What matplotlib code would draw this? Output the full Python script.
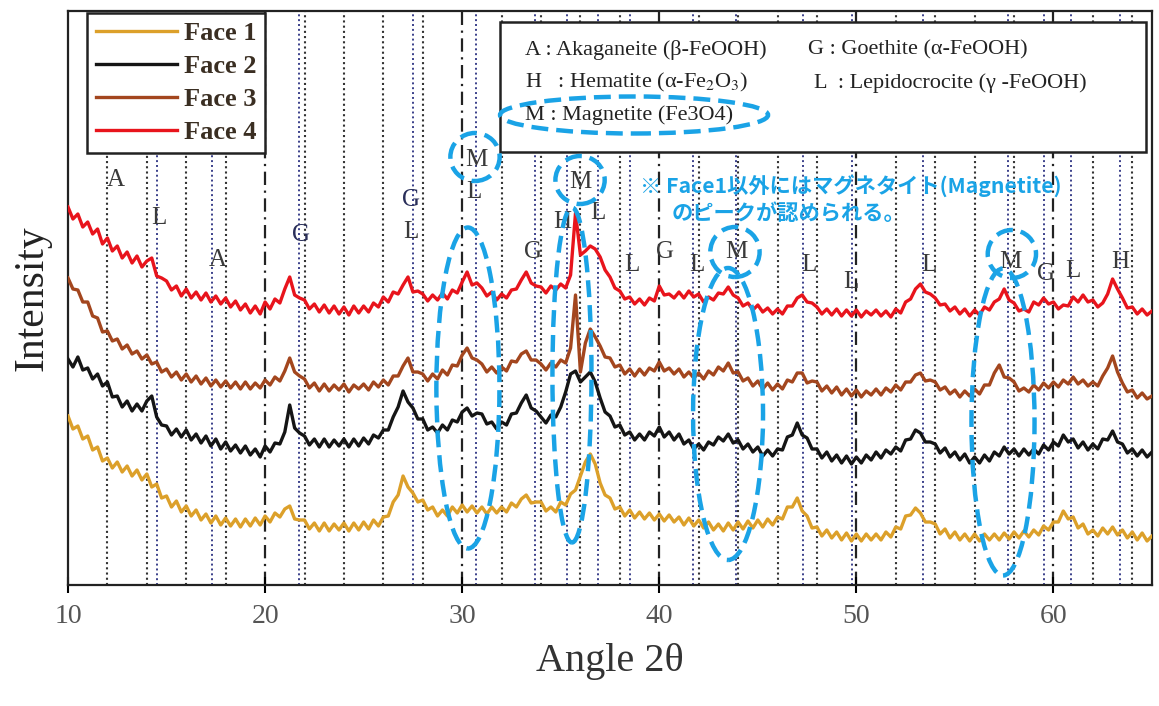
import numpy as np
import matplotlib.pyplot as plt
from matplotlib.patches import Ellipse, Rectangle

plt.rcParams['font.family'] = ['Liberation Serif', 'DejaVu Serif']
plt.rcParams['mathtext.fontset'] = 'stix'

# 2theta sampling (0.25 deg) (a.u.)
angle = np.arange(10, 65.001, 0.25)

face4 = [378, 366, 371, 358,  363, 351, 356, 341,  347, 334, 339, 327,  333, 322, 329, 318,
         324, 327, 309, 307,  304, 295, 299, 289,  296, 287, 293, 285,  292, 283, 289, 281,
         287, 278, 284, 275,  281, 272, 279, 271,  283, 276, 286, 282,  296, 308, 290, 287,
         285, 276, 281, 273,  280, 272, 279, 271,  278, 270, 279, 272,  279, 273, 282, 278,
         288, 283, 293, 291,  300, 308, 293, 294,  291, 284, 290, 285,  292, 286, 295, 292,
         303, 313, 300, 302,  297, 289, 293, 285,  291, 287, 295, 296,  305, 313, 302, 299,
         298, 292, 299, 295,  301, 297, 310, 372,  330, 334, 339, 336,  328, 315, 308, 297,
         294, 286, 288, 281,  286, 280, 287, 284,  299, 290, 291, 287,  293, 287, 294, 288,
         291, 283, 288, 285,  292, 291, 298, 290,  287, 279, 282, 275,  280, 273, 277, 271,
         276, 271, 279, 279,  287, 290, 283, 282,  278, 271, 276, 270,  276, 269, 275, 269,
         275, 268, 274, 270,  275, 269, 274, 268,  276, 272, 283, 286,  296, 301, 293, 291,
         287, 280, 281, 274,  278, 271, 276, 269,  275, 270, 278, 275,  283, 286, 296, 285,
         282, 274, 276, 273,  283, 280, 287, 281,  283, 276, 280, 279,  288, 283, 290, 283,
         285, 278, 282, 291,  306, 296, 287, 277,  278, 271, 276, 270,  274]

face3 = [307, 296, 295, 283,  283, 269, 267, 253,  254, 244, 246, 236,  240, 231, 234, 226,
         230, 221, 223, 213,  216, 208, 213, 205,  211, 203, 209, 201,  207, 199, 205, 198,
         204, 197, 203, 196,  203, 196, 202, 197,  205, 200, 208, 204,  214, 227, 213, 209,
         206, 197, 202, 194,  201, 194, 200, 195,  201, 193, 200, 196,  201, 195, 203, 198,
         205, 200, 209, 209,  219, 227, 213, 213,  211, 204, 211, 206,  215, 210, 220, 219,
         230, 237, 227, 225,  221, 213, 218, 212,  218, 214, 224, 223,  231, 234, 225, 225,
         221, 215, 222, 218,  225, 222, 237, 290,  213, 242, 256, 248,  239, 228, 227, 218,
         220, 211, 216, 209,  216, 210, 217, 214,  223, 214, 217, 211,  216, 208, 213, 207,
         212, 206, 214, 210,  218, 214, 222, 212,  213, 204, 207, 199,  204, 196, 202, 195,
         201, 196, 205, 203,  212, 212, 202, 204,  203, 194, 199, 192,  198, 190, 196, 189,
         195, 188, 194, 190,  196, 190, 197, 193,  200, 195, 203, 203,  210, 212, 204, 205,
         203, 195, 198, 191,  195, 188, 194, 189,  196, 191, 200, 200,  212, 220, 208, 207,
         203, 194, 197, 193,  200, 195, 202, 197,  203, 198, 205, 201,  208, 201, 205, 199,
         203, 199, 209, 217,  229, 213, 202, 193,  195, 187, 192, 186,  189]

face2 = [226, 218, 228, 215,  217, 206, 211, 199,  203, 188, 189, 178,  184, 174, 181, 174,
         184, 189, 168, 160,  159, 150, 156, 148,  155, 145, 151, 142,  149, 139, 146, 136,
         143, 134, 140, 132,  139, 130, 136, 128,  139, 133, 142, 141,  153, 180, 157, 152,
         149, 140, 146, 138,  146, 138, 145, 139,  146, 138, 146, 139,  147, 141, 150, 147,
         155, 155, 168, 178,  194, 183, 177, 166,  166, 155, 158, 152,  160, 155, 165, 163,
         173, 177, 169, 172,  171, 161, 163, 156,  163, 160, 171, 172,  182, 190, 177, 174,
         168, 162, 170, 168,  178, 193, 211, 214,  203, 208, 213, 203,  187, 173, 169, 158,
         160, 150, 153, 145,  151, 145, 153, 149,  158, 148, 153, 145,  151, 141, 145, 136,
         141, 135, 143, 140,  148, 144, 151, 142,  145, 136, 141, 133,  138, 129, 135, 129,
         136, 135, 148, 150,  162, 150, 147, 136,  136, 127, 133, 124,  130, 122, 129, 121,
         128, 122, 130, 125,  133, 127, 135, 131,  138, 134, 145, 146,  155, 152, 143, 143,
         141, 132, 137, 128,  133, 125, 131, 122,  128, 122, 130, 124,  133, 129, 138, 131,
         136, 129, 136, 130,  136, 131, 140, 135,  143, 139, 150, 143,  146, 137, 143, 135,
         141, 136, 146, 145,  154, 143, 141, 132,  136, 129, 135, 128,  133]

face1 = [169, 156, 159, 146,  149, 135, 138, 124,  127, 117, 123, 113,  119, 109, 115, 105,
         111, 98, 101, 87,  89, 78, 84, 73,  79, 69, 75, 65,  71, 62, 69, 60,
         67, 59, 66, 58,  66, 59, 67, 60,  69, 63, 72, 68,  76, 79, 66, 65,
         65, 56, 62, 54,  62, 54, 61, 55,  62, 54, 62, 55,  63, 56, 65, 59,
         68, 69, 83, 90,  109, 98, 92, 83,  85, 75, 78, 69,  75, 69, 78, 72,
         80, 73, 79, 72,  78, 71, 78, 72,  78, 73, 82, 78,  86, 90, 82, 83,
         83, 74, 78, 73,  83, 80, 91, 95,  109, 123, 131, 121,  102, 90, 87, 76,
         78, 69, 75, 67,  73, 66, 72, 65,  71, 64, 70, 63,  68, 60, 67, 59,
         65, 57, 63, 55,  61, 54, 62, 55,  63, 56, 64, 57,  65, 58, 66, 60,
         68, 66, 78, 78,  87, 74, 69, 57,  58, 49, 55, 47,  53, 45, 52, 44,
         51, 44, 51, 45,  51, 45, 53, 48,  58, 56, 69, 70,  77, 72, 63, 63,
         61, 51, 56, 47,  53, 45, 51, 44,  51, 44, 51, 45,  51, 45, 52, 46,
         53, 47, 54, 48,  55, 50, 59, 55,  63, 63, 74, 66,  68, 57, 61, 51,
         55, 49, 57, 51,  58, 50, 55, 47,  53, 45, 52, 44,  49]

series_names = ['Face 1', 'Face 2', 'Face 3', 'Face 4']
series_colors = ['#DCA02A', '#151515', '#A3461E', '#E8141C']

# reference peak positions (deg)
peak_lines = [14.5, 17.3, 21.7, 27.5, 30.7, 33.7, 35.3, 36.9, 38.5, 41.7,
              43.9, 47.3, 49.8, 53.4, 57.7, 59.5, 60.9, 63.4]
grid_lines = np.arange(12, 65, 2)
decade_lines = [20, 30, 40, 50, 60]

# phase letters: (letter, angle, height)
phase_labels = [('A', 12.4, 405), ('L', 14.6, 367), ('A', 17.6, 325), ('G', 21.8, 350),
                ('G', 27.4, 385), ('L', 27.4, 353), ('M', 30.7, 425), ('L', 30.6, 393),
                ('M', 36.0, 403), ('H', 35.1, 363), ('L', 36.9, 372), ('G', 33.6, 333),
                ('L', 38.6, 320), ('G', 40.3, 333), ('L', 41.9, 320), ('M', 43.9, 333),
                ('L', 47.6, 320), ('L', 49.7, 303), ('L', 53.7, 320), ('M', 57.8, 323),
                ('G', 59.6, 311), ('L', 61.0, 314), ('H', 63.4, 323)]

fig = plt.figure(figsize=(11.59, 7.06), dpi=100)
ax = fig.add_axes([68/1159, 121/706, 1084/1159, 574/706])

for g in grid_lines:
    if g in decade_lines:
        ax.axvline(g, color='#222222', lw=1.6, ls=(0, (6, 2.5, 1, 2.5)), zorder=1)
    else:
        ax.axvline(g, color='#333333', lw=1.5, ls=(0, (1, 1.5)), zorder=1)
for p in peak_lines:
    ax.axvline(p, color='#3a3f8a', lw=1.4, ls=(0, (1, 1.5)), zorder=1)

lines = []
for vals, name, col in zip([face1, face2, face3, face4], series_names, series_colors):
    ln, = ax.plot(angle, vals, color=col, lw=2.4, label=name, zorder=3)
    lines.append(ln)

for lab, xx, yy in phase_labels:
    col = '#2a2f5a' if lab == 'G' and xx < 30 else '#3a3a3a'
    ax.text(xx, yy, lab, ha='center', va='center', fontsize=18, color=col, zorder=4)

ax.set_xlim(10, 65)
ax.set_ylim(0, 574)
ax.set_yticks([])
ax.set_xticks([10, 20, 30, 40, 50, 60])
ax.tick_params(axis='x', direction='inout', length=12, width=1.5, labelsize=20,
               labelcolor='#555555', pad=8)
for s in ax.spines.values():
    s.set_linewidth(1.6)
    s.set_color('#222222')
ax.set_xlabel('Angle 2θ', fontsize=29, color='#333333', labelpad=10)
ax.set_ylabel('Intensity', fontsize=30, color='#222222', labelpad=12)

leg = ax.legend(handles=lines, loc='upper left', bbox_to_anchor=(0.0175, 0.9965),
                frameon=True, fancybox=False, edgecolor='#222222', framealpha=1,
                borderaxespad=0, handlelength=3.1, handletextpad=0.25, labelspacing=0.36,
                borderpad=0.33, prop={'family': 'Liberation Serif', 'weight': 'bold', 'size': 19})
leg.get_frame().set_linewidth(1.8)
for t in leg.get_texts():
    t.set_color('#3a2e22')
leg.set_zorder(6)

# phase key box
ax.add_patch(Rectangle((0.3985, 0.7544), 0.596, 0.2264, transform=ax.transAxes,
                       facecolor='white', edgecolor='#222222', lw=1.8, zorder=5))
key_font = dict(fontsize=16, color='#222222', va='center', ha='left',
                transform=ax.transAxes, zorder=6)
ax.text(0.4216, 0.932, 'A : Akaganeite (β-FeOOH)', **key_font)
ax.text(0.6827, 0.932, 'G : Goethite (α-FeOOH)', **key_font)
ax.text(0.4216, 0.8746, 'H   : Hematite (α-Fe$_2$O$_3$)', **key_font)
ax.text(0.6880, 0.8746, 'L  : Lepidocrocite (γ -FeOOH)', **key_font)
ax.text(0.4216, 0.8188, 'M : Magnetite (Fe3O4)', **key_font)

blue = '#1AA3E6'
dash = (0, (3.8, 1.8))
marks = [((38.72, 470), 13.6, 37), ((30.65, 428), 2.5, 48), ((35.98, 405), 2.5, 48),
         ((43.84, 333), 2.5, 50), ((57.89, 331), 2.45, 48),
         ((30.29, 197), 3.2, 321), ((35.57, 210), 1.98, 335),
         ((43.49, 171), 3.55, 292), ((57.44, 163), 3.2, 307)]
for c, w, h in marks:
    ax.add_patch(Ellipse(c, w, h, fill=False, edgecolor=blue, lw=3.2, ls=dash, zorder=7))

jp = ['Noto Sans CJK JP', 'DejaVu Sans']
ax.text(39.02, 399, '※ Face1以外にはマグネタイト(Magnetite)', family=jp, fontsize=15.3,
        fontweight='bold', color=blue, ha='left', va='center', zorder=7)
ax.text(40.64, 372, 'のピークが認められる。', family=jp, fontsize=15.3,
        fontweight='bold', color=blue, ha='left', va='center', zorder=7)

fig.savefig('out.png', dpi=100, facecolor='white')
